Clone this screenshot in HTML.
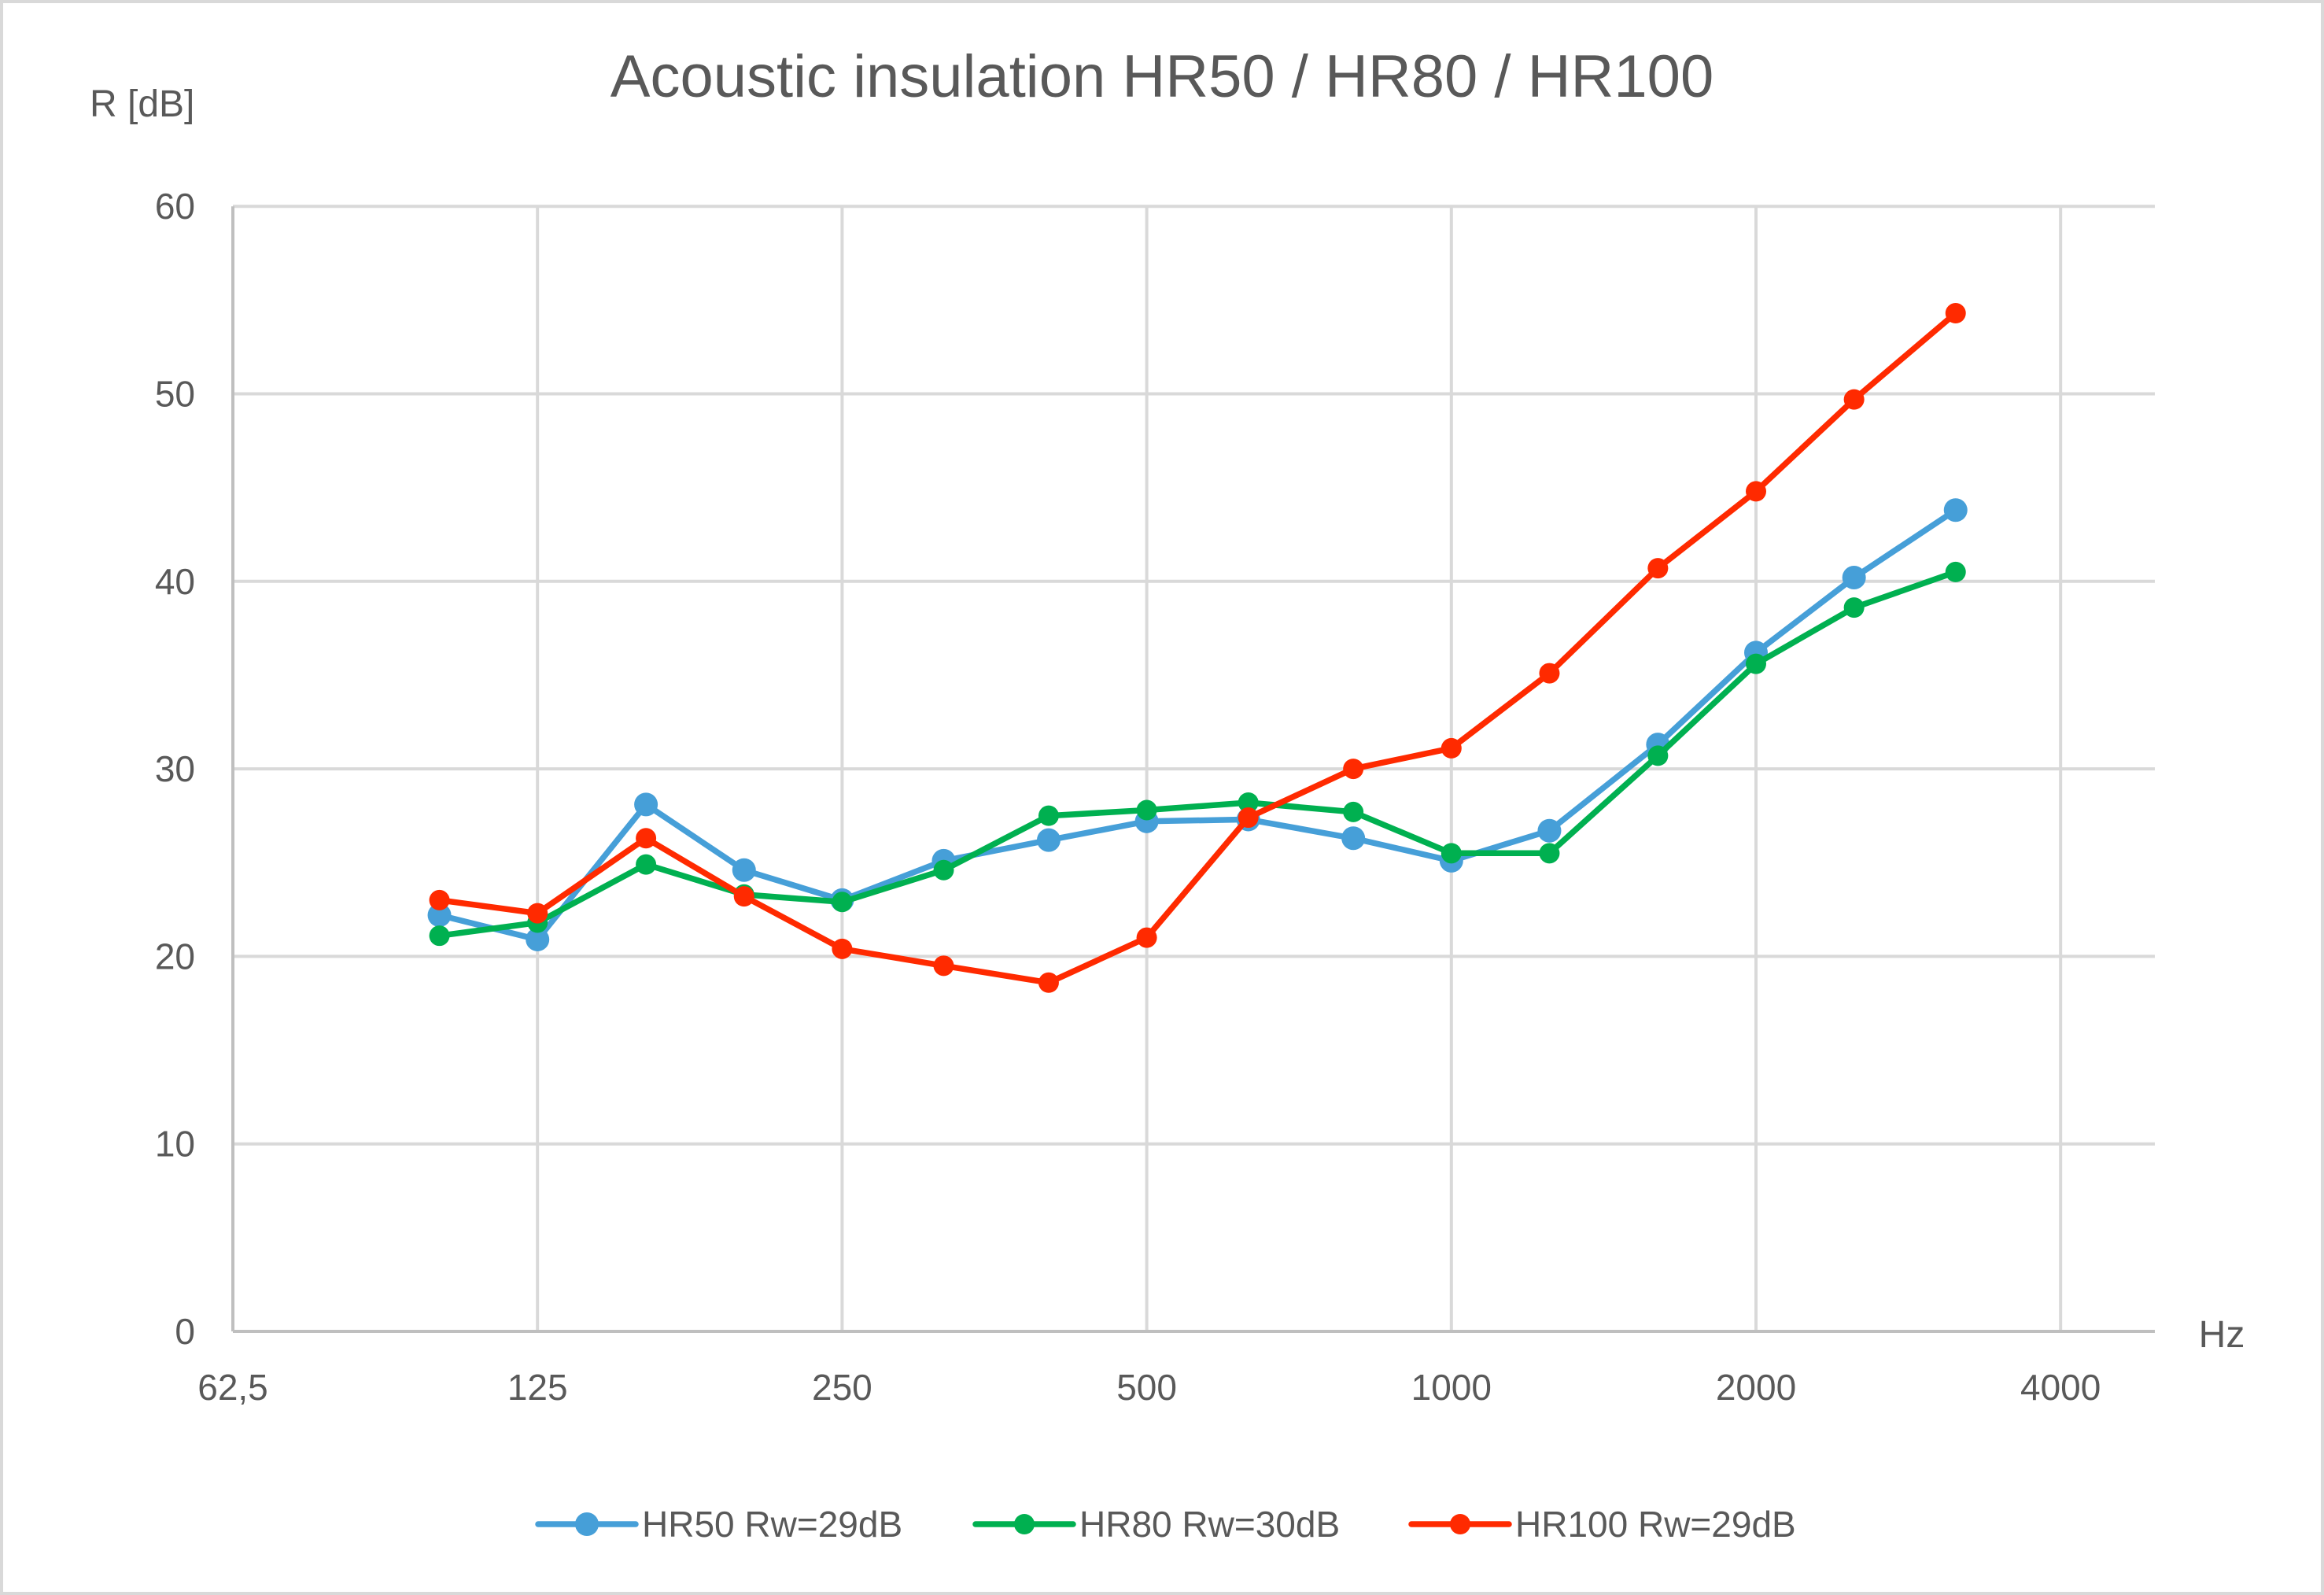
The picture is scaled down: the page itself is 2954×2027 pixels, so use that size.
<!DOCTYPE html>
<html><head><meta charset="utf-8"><style>
html,body{margin:0;padding:0;background:#fff;}
svg{display:block;}
text{font-family:"Liberation Sans",sans-serif;fill:#595959;}
</style></head><body>
<svg id="c" width="2954" height="2027" viewBox="0 0 2954 2027" xmlns="http://www.w3.org/2000/svg">
<rect x="2" y="2" width="2950" height="2023" fill="#fff" stroke="#d9d9d9" stroke-width="4"/>
<text x="1477" y="123" font-size="76" text-anchor="middle">Acoustic insulation HR50 / HR80 / HR100</text>
<text x="114" y="148" font-size="48">R [dB]</text>
<text x="2824" y="1712" font-size="48" text-anchor="middle">Hz</text>
<g id="grid"></g>
<g id="series"></g>
<g id="legend"></g>
</svg>
<script>
var NS="http://www.w3.org/2000/svg";
function el(p,n,a,t){var e=document.createElementNS(NS,n);for(var k in a)e.setAttribute(k,a[k]);if(t!==undefined)e.textContent=t;p.appendChild(e);return e;}
var XL=296,OCT=387.2,Y0=1692,PDB=23.83,XR=2739;
function X(f){return XL+OCT*Math.log2(f/62.5);}
function Y(v){return Y0-v*PDB;}
var g=document.getElementById('grid');
for(var v=10;v<=60;v+=10){el(g,'line',{x1:XL,x2:XR,y1:Y(v),y2:Y(v),stroke:'#d9d9d9','stroke-width':4});}
var xt=[[62.5,'62,5'],[125,'125'],[250,'250'],[500,'500'],[1000,'1000'],[2000,'2000'],[4000,'4000']];
xt.forEach(function(t,i){if(i>0)el(g,'line',{x1:X(t[0]),x2:X(t[0]),y1:Y(60),y2:Y0,stroke:'#d9d9d9','stroke-width':4});
el(g,'text',{x:X(t[0]),y:1779,'font-size':46,'text-anchor':'middle'},t[1]);});
el(g,'line',{x1:XL,x2:XL,y1:Y(60),y2:Y0,stroke:'#bfbfbf','stroke-width':4});
el(g,'line',{x1:XL,x2:XR,y1:Y0,y2:Y0,stroke:'#bfbfbf','stroke-width':4});
for(var v=0;v<=60;v+=10){el(g,'text',{x:248,y:Y(v)+16,'font-size':46,'text-anchor':'end'},String(v));}
var F=[100,125,160,200,250,315,400,500,630,800,1000,1250,1600,2000,2500,3150];
var S=[
{c:'#469fd8',r:15,d:[22.2,20.9,28.1,24.6,23.0,25.1,26.2,27.2,27.3,26.3,25.1,26.7,31.3,36.2,40.2,43.8]},
{c:'#00b050',r:13,d:[21.1,21.8,24.9,23.3,22.9,24.6,27.5,27.8,28.2,27.7,25.5,25.5,30.7,35.6,38.6,40.5]},
{c:'#ff2a00',r:13,d:[23.0,22.3,26.3,23.2,20.4,19.5,18.6,21.0,27.4,30.0,31.1,35.1,40.7,44.8,49.7,54.3]}];
var sg=document.getElementById('series');
S.forEach(function(s){var p=s.d.map(function(v,i){return X(F[i]).toFixed(1)+','+Y(v).toFixed(1);}).join(' ');
el(sg,'polyline',{points:p,fill:'none',stroke:s.c,'stroke-width':7.5,'stroke-linejoin':'round'});
s.d.forEach(function(v,i){el(sg,'circle',{cx:X(F[i]),cy:Y(v),r:s.r,fill:s.c});});});
var lg=document.getElementById('legend');
var L=[[684,'HR50 Rw=29dB'],[1240,'HR80 Rw=30dB'],[1794,'HR100 Rw=29dB']];
L.forEach(function(l,i){var c=S[i].c;el(lg,'line',{x1:l[0],x2:l[0]+124,y1:1937,y2:1937,stroke:c,'stroke-width':7.5,'stroke-linecap':'round'});
el(lg,'circle',{cx:l[0]+62,cy:1937,r:S[i].r,fill:c});
el(lg,'text',{x:l[0]+132,y:1953,'font-size':46},l[1]);});
</script>
</body></html>
